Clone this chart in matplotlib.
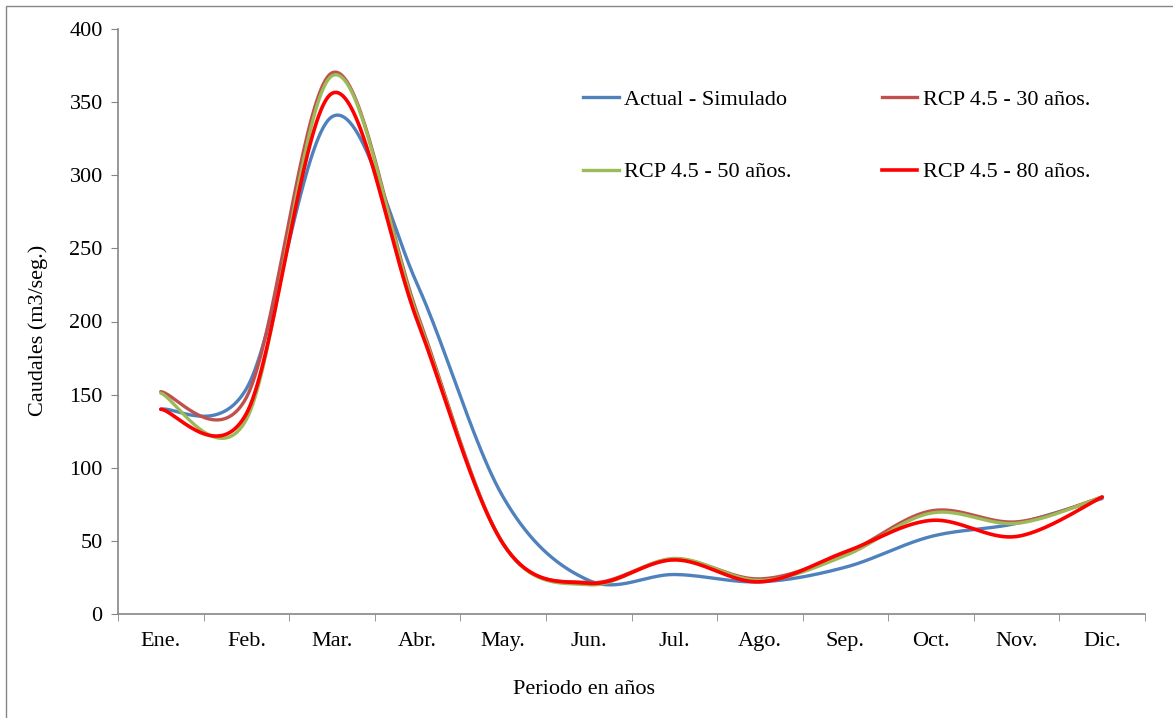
import numpy as np
import matplotlib
matplotlib.use("Agg")
import matplotlib.pyplot as plt
from matplotlib.lines import Line2D
from matplotlib.patches import Rectangle

months = ["Ene.", "Feb.", "Mar.", "Abr.", "May.", "Jun.", "Jul.", "Ago.", "Sep.", "Oct.", "Nov.", "Dic."]
actual = [140, 154, 340, 225, 80, 23, 27, 22, 32, 53, 62, 79]
rcp30 = [152, 148, 370, 205, 48, 21.5, 37.5, 24, 41.5, 70.5, 63, 80]
rcp50 = [151, 133, 368, 203, 48, 20, 38, 23, 40, 69, 62, 80]
rcp80 = [140, 137, 356, 200, 48, 21, 37, 22, 42.5, 64, 53, 80]

series = [
    ("Actual - Simulado", actual, "#4F81BD", 2.4),
    ("RCP 4.5 - 30 años.", rcp30, "#C0504D", 2.4),
    ("RCP 4.5 - 50 años.", rcp50, "#9BBB59", 2.4),
    ("RCP 4.5 - 80 años.", rcp80, "#FF0000", 2.6),
]


def smooth(xs, ys, n=40):
    pts = np.column_stack([xs, ys]).astype(float)
    m = len(pts)
    out = [pts[0]]
    for i in range(m - 1):
        p0 = pts[i - 1] if i > 0 else pts[i]
        p1 = pts[i]
        p2 = pts[i + 1]
        p3 = pts[i + 2] if i + 2 < m else pts[i + 1]
        c1 = p1 + (p2 - p0) / 6.0
        c2 = p2 - (p3 - p1) / 6.0
        t = np.linspace(0, 1, n)[1:, None]
        b = ((1 - t) ** 3) * p1 + 3 * ((1 - t) ** 2) * t * c1 + 3 * (1 - t) * t ** 2 * c2 + t ** 3 * p2
        out.extend(b)
    out = np.array(out)
    return out[:, 0], out[:, 1]


plt.rcParams["font.family"] = ["Liberation Serif", "DejaVu Serif"]

fig = plt.figure(figsize=(11.73, 7.18), dpi=100)
W, H = 1173, 718
ax = fig.add_axes([118 / W, 1 - 614 / H, (1145 - 118) / W, (614 - 29) / H])

x = np.arange(len(months))
handles = []
for label, vals, color, lw in series:
    sx, sy = smooth(x, vals)
    ax.plot(sx, sy, color=color, lw=lw, solid_capstyle="round")
    handles.append(Line2D([0], [0], color=color, lw=lw))

ax.set_xlim(-0.5, len(months) - 0.5)
ax.set_ylim(0, 400)
ax.set_yticks(np.arange(0, 401, 50))
ax.set_xticks(x)
ax.set_xticklabels(months)
ax.set_xticks(np.arange(-0.5, len(months), 1.0), minor=True)
ax.tick_params(axis="x", which="major", length=0, pad=13, labelsize=16)
ax.tick_params(axis="x", which="minor", length=5, color="#868686", direction="out")
ax.tick_params(axis="y", length=5, color="#868686", direction="out", labelsize=16, pad=6)
for s in ["top", "right"]:
    ax.spines[s].set_visible(False)
for s in ["left", "bottom"]:
    ax.spines[s].set_color("#868686")
    ax.spines[s].set_linewidth(1.2)

fig.text(584 / W, 1 - 690 / H, "Periodo en años", ha="center", va="center", fontsize=16)
fig.text(38 / W, 1 - 330 / H, "Caudales (m3/seg.)", ha="center", va="center", rotation=90, fontsize=16)

order = [0, 2, 1, 3]
fig.legend([handles[i] for i in order], [series[i][0] for i in order], ncol=2,
           loc="upper left", bbox_to_anchor=(583 / W, 1 - 89 / H), frameon=False,
           fontsize=16, handlelength=1.6, handletextpad=0.25, columnspacing=4.05,
           labelspacing=2.35, borderpad=0, borderaxespad=0)

fig.patches.append(Rectangle((6 / W, -0.05), 1.2, 1 - 6 / H + 0.05, transform=fig.transFigure,
                             fill=False, edgecolor="#868686", lw=1.0))

fig.savefig("out.png", dpi=100)
